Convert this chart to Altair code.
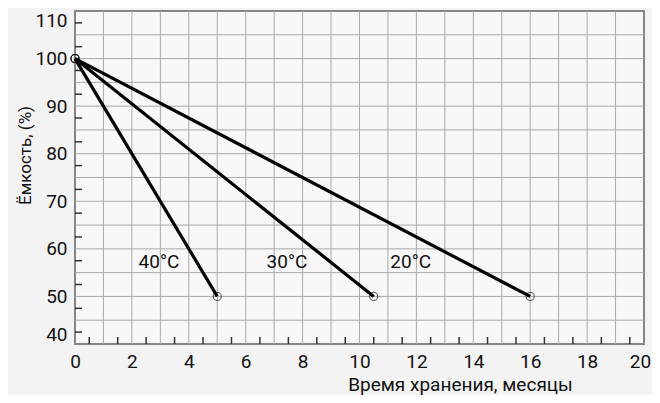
import altair as alt
import pandas as pd

# Series
temps = ["40°C", "30°C", "20°C"]
start_month = [0, 0, 0]
start_capacity = [100, 100, 100]
end_month = [5, 10.5, 16]
end_capacity = [50, 50, 50]

# Curve labels
label_text = ["40°C", "30°C", "20°C"]
label_x = [2.95, 7.45, 11.8]
label_y = [57.2, 57.2, 57.2]

# Axis values
x_labels = list(range(0, 21, 2))
y_labels = list(range(40, 111, 10))
x_grid = list(range(0, 21))
y_grid = list(range(40, 111, 5))
x_ticks = [i + 0.5 for i in range(0, 20)]
y_ticks = [42.5 + 5 * i for i in range(0, 14)]

FONT = "Roboto"

rows = []
for t, x0, y0, x1, y1 in zip(temps, start_month, start_capacity, end_month, end_capacity):
    rows.append({"temp": t, "month": x0, "cap": y0, "order": 0})
    rows.append({"temp": t, "month": x1, "cap": y1, "order": 1})
lines_df = pd.DataFrame(rows)

labels_df = pd.DataFrame({"text": label_text, "month": label_x, "cap": label_y})
xt_df = pd.DataFrame({"month": x_ticks})
yt_df = pd.DataFrame({"cap": y_ticks})
xg_df = pd.DataFrame({"month": x_grid})
yg_df = pd.DataFrame({"cap": y_grid})

xscale = alt.Scale(domain=[0, 20], nice=False, zero=False)
yscale = alt.Scale(domain=[40, 110], nice=False, zero=False)

xaxis = alt.Axis(
    values=x_labels,
    grid=False, ticks=False, domain=False,
    labelFont=FONT, labelFontSize=19, labelColor="#111", labelPadding=8,
    labelFlush=False,
    labelOffset={"condition": {"test": "datum.value == 20", "value": -4}, "value": 0},
    title="Время хранения, месяцы", titleFont=FONT, titleFontSize=19,
    titleFontWeight="normal", titleColor="#111",
    titleX=385, titleY=46, titleAlign="center", titleBaseline="alphabetic",
)
yaxis = alt.Axis(
    values=y_labels,
    grid=False, ticks=False, domain=False,
    labelFont=FONT, labelFontSize=19, labelColor="#111", labelPadding=8,
    labelFlush=True,
    title="Ёмкость, (%)", titleFont=FONT, titleFontSize=17,
    titleFontWeight="normal", titleColor="#111",
    titleX=-50, titleY=144, titleAlign="center", titleBaseline="middle",
    titleAngle=270,
)

xgrid = alt.Chart(xg_df).mark_rule(color="#a9a9a9", strokeWidth=1).encode(
    x=alt.X("month:Q", scale=xscale, axis=xaxis)
)
ygrid = alt.Chart(yg_df).mark_rule(color="#a9a9a9", strokeWidth=1).encode(
    y=alt.Y("cap:Q", scale=yscale, axis=yaxis)
)

base = alt.Chart(lines_df)

lines = base.mark_line(color="black", strokeWidth=3.2).encode(
    x="month:Q",
    y="cap:Q",
    detail="temp:N",
    order="order:Q",
)

points = base.mark_point(
    shape="circle", filled=False, size=65, color="black", strokeWidth=1
).encode(x="month:Q", y="cap:Q")

labels = alt.Chart(labels_df).mark_text(
    font=FONT, fontSize=19, color="#111", align="center", baseline="middle"
).encode(x="month:Q", y="cap:Q", text="text:N")

xticks = alt.Chart(xt_df).mark_rule(color="#333", strokeWidth=1.5).encode(
    x="month:Q", y=alt.value(333), y2=alt.value(326)
)
yticks = alt.Chart(yt_df).mark_rule(color="#333", strokeWidth=1.5).encode(
    y="cap:Q", x=alt.value(0), x2=alt.value(7)
)

chart = alt.layer(xgrid, ygrid, xticks, yticks, lines, points, labels).properties(
    width=569, height=333,
    autosize=alt.AutoSizeParams(type="none"),
    padding={"left": 67, "top": 3, "right": 8, "bottom": 51},
    background="#f3f3f3",
).configure_view(
    stroke="#333", strokeWidth=1.5, fill="#f8f8f8"
)

chart.save("out.html", embed_options={"renderer": "svg", "actions": False})
